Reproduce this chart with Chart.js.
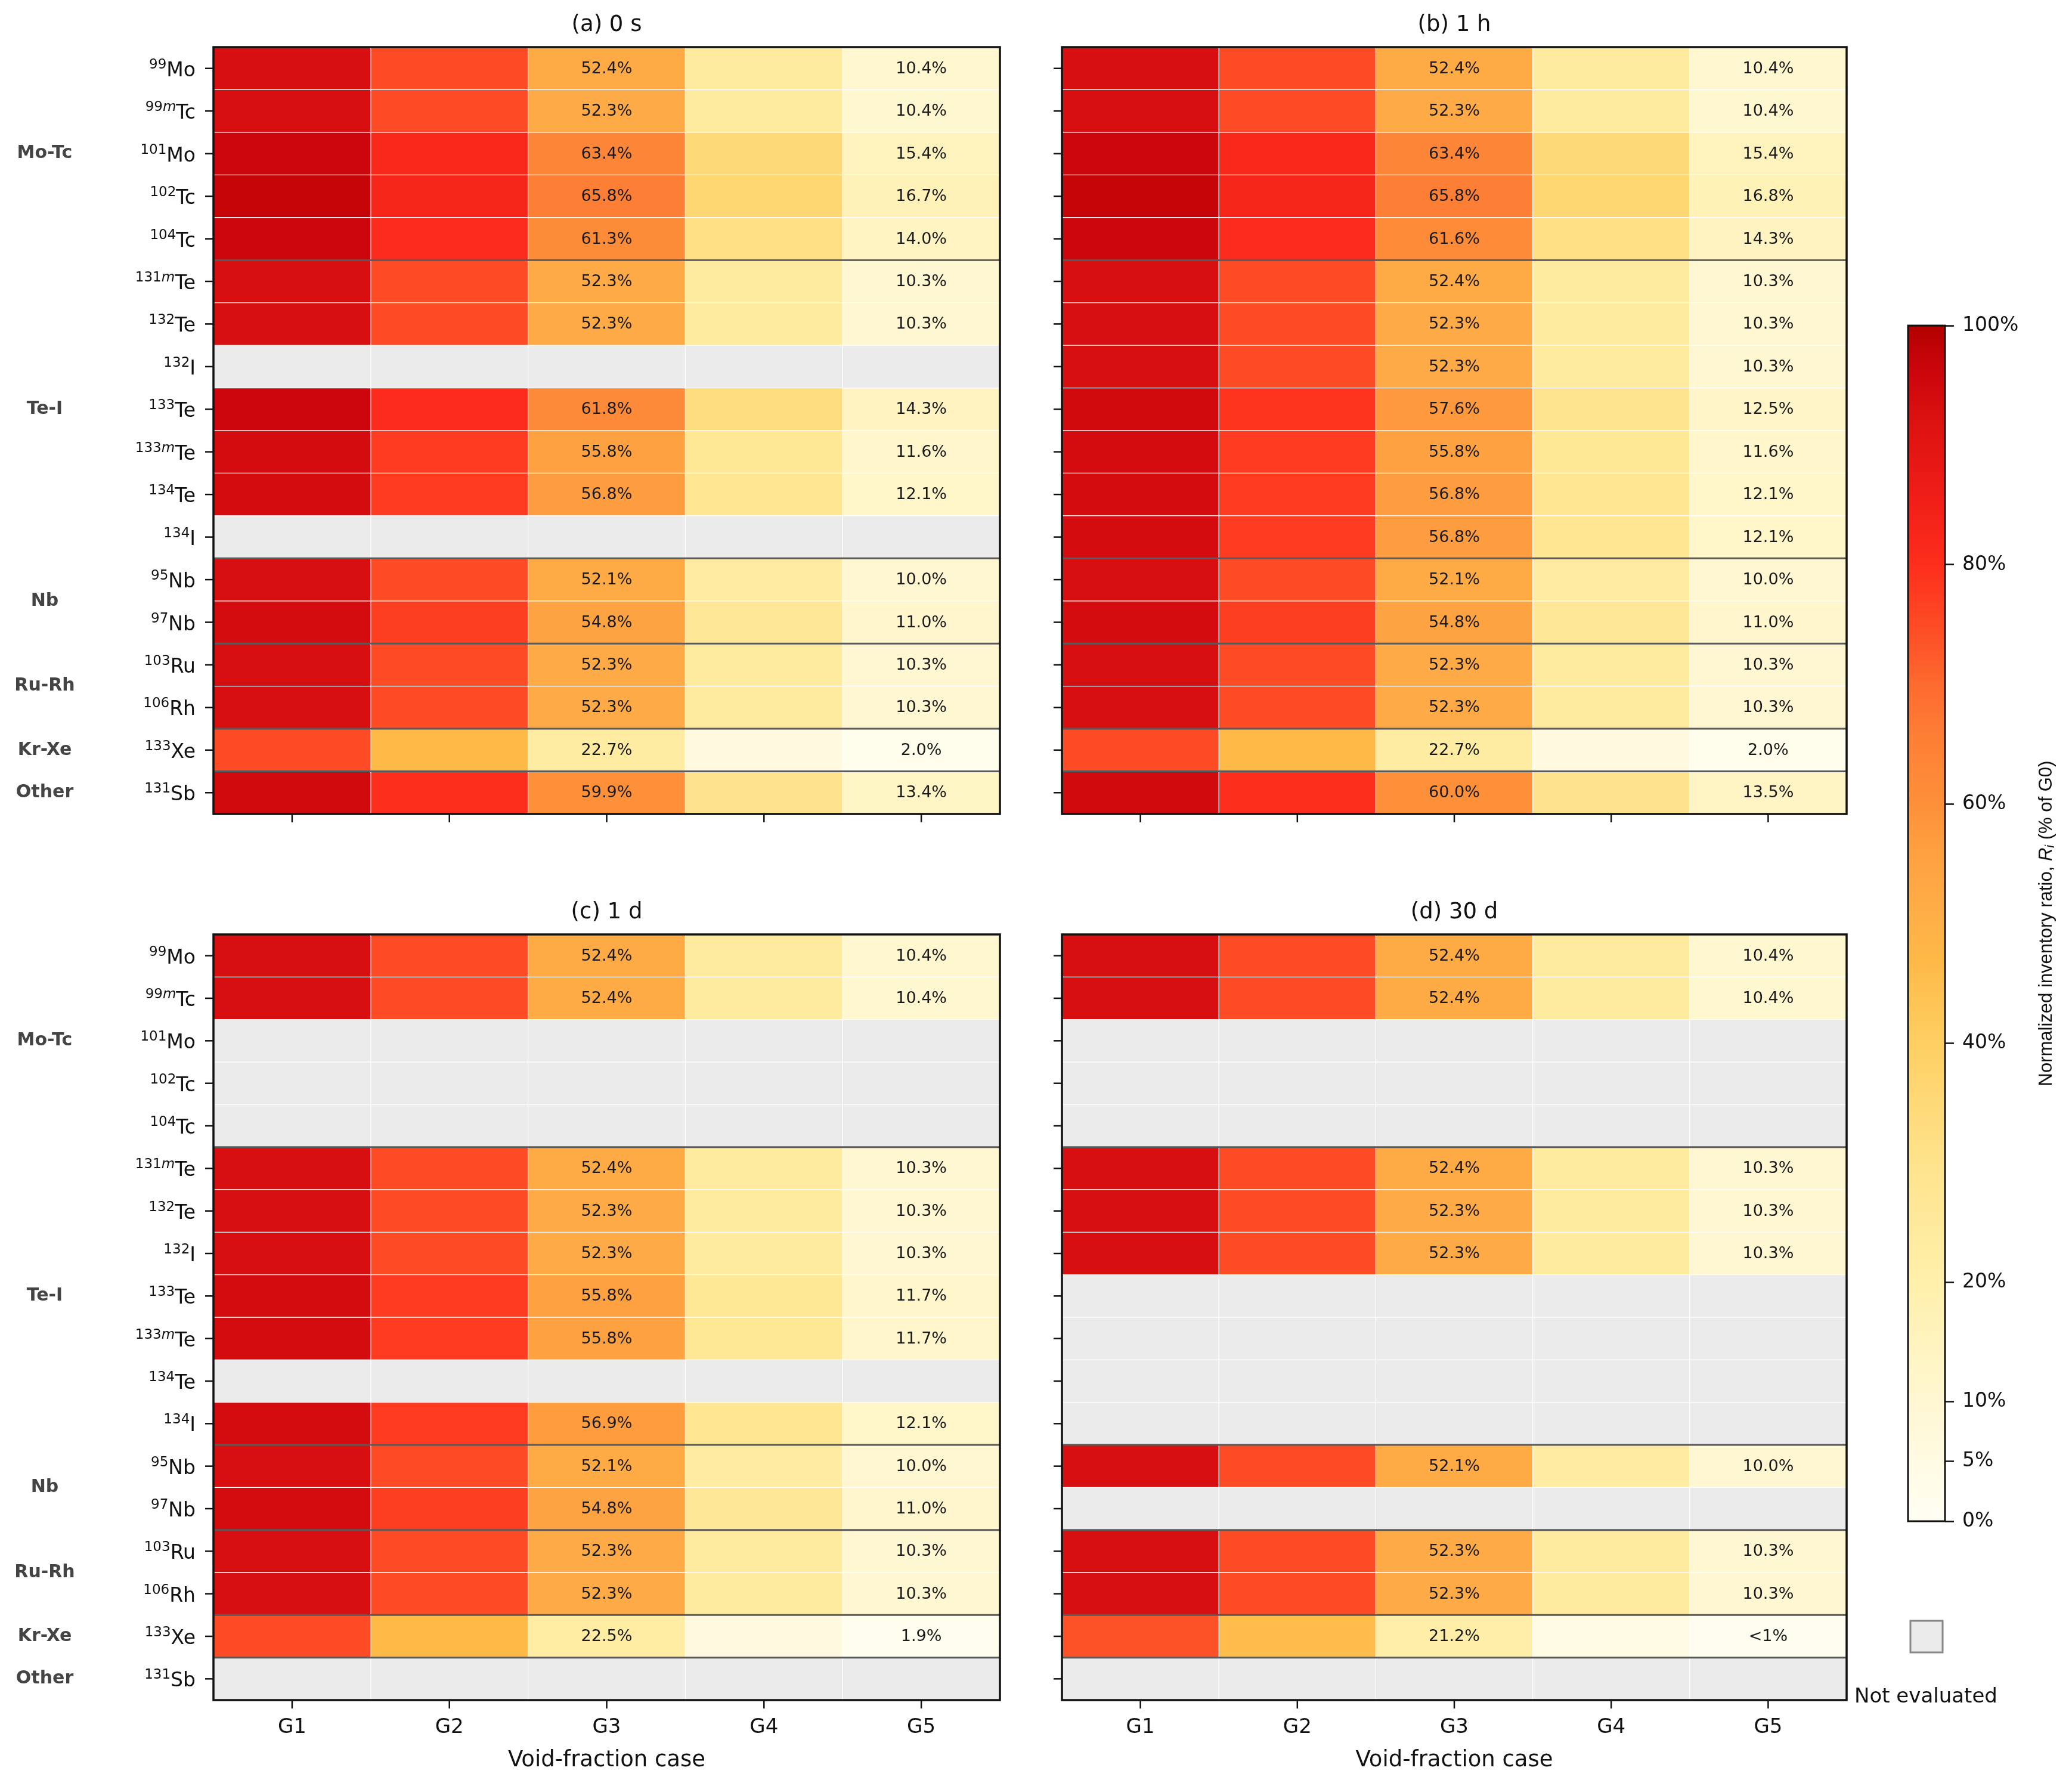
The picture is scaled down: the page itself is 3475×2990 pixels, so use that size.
<!DOCTYPE html>
<html lang="en">
<head>
<meta charset="UTF-8">
<title>Normalized inventory ratio by void-fraction case</title>
<script src="https://cdn.jsdelivr.net/npm/chart.js"></script>
<style>
    body {
        margin: 0;
        background: #ffffff;
    }

    #page {
        position: relative;
        width: 3475px;
        height: 2990px;
    }

    #page canvas {
        position: absolute;
        left: 0;
        top: 0;
    }
</style>
</head>
<body>
<div id="page">
    <canvas id="panelA" width="3475" height="2990"></canvas>
    <canvas id="panelB" width="3475" height="2990"></canvas>
    <canvas id="panelC" width="3475" height="2990"></canvas>
    <canvas id="panelD" width="3475" height="2990"></canvas>
    <canvas id="colorbar" width="3475" height="2990"></canvas>
</div>

<script>
    // ---- data ----
    const nuclides = ['99Mo', '99mTc', '101Mo', '102Tc', '104Tc', '131mTe', '132Te', '132I', '133Te',
        '133mTe', '134Te', '134I', '95Nb', '97Nb', '103Ru', '106Rh', '133Xe', '131Sb'];
    const groups = ['Mo-Tc', 'Te-I', 'Nb', 'Ru-Rh', 'Kr-Xe', 'Other'];
    const groupSizes = [5, 7, 2, 2, 1, 1];
    const cases = ['G1', 'G2', 'G3', 'G4', 'G5'];
    const labelledCases = ['G3', 'G5'];
    const cbarTicks = [0, 5, 10, 20, 40, 60, 80, 100];

    // (a) 0 s  -- values in % of G0, null = not evaluated
    const a_G1 = [93, 93, 96, 97, 96, 93, 93, null, 96, 94, 94, null, 93, 94, 93, 93, 75, 95];
    const a_G2 = [75, 75, 82, 83, 81, 75, 75, null, 81, 78, 78, null, 75, 77, 75, 75, 47, 80];
    const a_G3 = [52.4, 52.3, 63.4, 65.8, 61.3, 52.3, 52.3, null, 61.8, 55.8, 56.8, null, 52.1, 54.8, 52.3, 52.3, 22.7, 59.9];
    const a_G4 = [24, 24, 35, 36, 32, 24, 24, null, 33, 27, 28, null, 23, 26, 24, 24, 6, 30];
    const a_G5 = [10.4, 10.4, 15.4, 16.7, 14.0, 10.3, 10.3, null, 14.3, 11.6, 12.1, null, 10.0, 11.0, 10.3, 10.3, 2.0, 13.4];

    // (b) 1 h
    const b_G1 = [93, 93, 96, 97, 96, 93, 93, 93, 95, 94, 94, 94, 93, 94, 93, 93, 75, 95];
    const b_G2 = [75, 75, 82, 83, 81, 75, 75, 75, 79, 78, 78, 78, 75, 77, 75, 75, 47, 80];
    const b_G3 = [52.4, 52.3, 63.4, 65.8, 61.6, 52.4, 52.3, 52.3, 57.6, 55.8, 56.8, 56.8, 52.1, 54.8, 52.3, 52.3, 22.7, 60.0];
    const b_G4 = [24, 24, 35, 36, 32, 24, 24, 24, 29, 27, 28, 28, 23, 26, 24, 24, 6, 30];
    const b_G5 = [10.4, 10.4, 15.4, 16.8, 14.3, 10.3, 10.3, 10.3, 12.5, 11.6, 12.1, 12.1, 10.0, 11.0, 10.3, 10.3, 2.0, 13.5];

    // (c) 1 d
    const c_G1 = [93, 93, null, null, null, 93, 93, 93, 94, 94, null, 94, 93, 94, 93, 93, 75, null];
    const c_G2 = [75, 75, null, null, null, 75, 75, 75, 78, 78, null, 78, 75, 77, 75, 75, 47, null];
    const c_G3 = [52.4, 52.4, null, null, null, 52.4, 52.3, 52.3, 55.8, 55.8, null, 56.9, 52.1, 54.8, 52.3, 52.3, 22.5, null];
    const c_G4 = [24, 24, null, null, null, 24, 24, 24, 27, 27, null, 28, 23, 26, 24, 24, 6, null];
    const c_G5 = [10.4, 10.4, null, null, null, 10.3, 10.3, 10.3, 11.7, 11.7, null, 12.1, 10.0, 11.0, 10.3, 10.3, 1.9, null];

    // (d) 30 d
    const d_G1 = [93, 93, null, null, null, 93, 93, 93, null, null, null, null, 93, null, 93, 93, 74, null];
    const d_G2 = [75, 75, null, null, null, 75, 75, 75, null, null, null, null, 75, null, 75, 75, 46, null];
    const d_G3 = [52.4, 52.4, null, null, null, 52.4, 52.3, 52.3, null, null, null, null, 52.1, null, 52.3, 52.3, 21.2, null];
    const d_G4 = [24, 24, null, null, null, 24, 24, 24, null, null, null, null, 23, null, 24, 24, 5, null];
    const d_G5 = [10.4, 10.4, null, null, null, 10.3, 10.3, 10.3, null, null, null, null, 10.0, null, 10.3, 10.3, 0.8, null];

    // ---- styling ----
    const FONT = '"DejaVu Sans", sans-serif';
    const W = 3475, H = 2990;
    const notEvalColor = '#ebebeb';
    const cmapStops = [
        [0, '#fffef3'], [10, '#fff7d2'], [20, '#fff0ab'], [30, '#fee38c'], [40, '#fecf62'],
        [47, '#feb947'], [52, '#feab46'], [56, '#fea040'], [60, '#fd9039'], [66, '#fd7d35'],
        [70, '#fd6a2f'], [75, '#fd4b25'], [80, '#fe2e1c'], [86, '#ef1d17'], [92, '#dc1211'],
        [96, '#cc060c'], [100, '#b30000']
    ];

    function hexToRgb(h) {
        return [1, 3, 5].map(i => parseInt(h.substr(i, 2), 16));
    }

    function cmap(v) {
        v = Math.max(0, Math.min(100, v));
        for (let i = 1; i < cmapStops.length; i++) {
            const [v1, c1] = cmapStops[i];
            if (v <= v1) {
                const [v0, c0] = cmapStops[i - 1];
                const t = (v - v0) / (v1 - v0);
                const a = hexToRgb(c0), b = hexToRgb(c1);
                const m = a.map((x, j) => Math.round(x + (b[j] - x) * t));
                return `rgb(${m[0]}, ${m[1]}, ${m[2]})`;
            }
        }
        return cmapStops[cmapStops.length - 1][1];
    }

    function fmt(v) {
        return v < 1 ? '<1%' : v.toFixed(1) + '%';
    }

    function line(ctx, x0, y0, x1, y1) {
        ctx.beginPath();
        ctx.moveTo(x0, y0);
        ctx.lineTo(x1, y1);
        ctx.stroke();
    }

    // nuclide tick label with superscript mass number (metastable "m" in italics)
    function drawNuclide(ctx, label, xr, yc) {
        const m = label.match(/^(\d+)(m?)(.+)$/);
        ctx.textAlign = 'left';
        ctx.textBaseline = 'alphabetic';
        ctx.font = `33px ${FONT}`;
        const ws = ctx.measureText(m[3]).width;
        ctx.font = `23px ${FONT}`;
        const wn = ctx.measureText(m[1]).width;
        ctx.font = `italic 23px ${FONT}`;
        const wm = m[2] ? ctx.measureText(m[2]).width : 0;
        let xx = xr - ws - wm - wn;
        ctx.font = `23px ${FONT}`;
        ctx.fillText(m[1], xx, yc);
        xx += wn;
        if (m[2]) {
            ctx.font = `italic 23px ${FONT}`;
            ctx.fillText(m[2], xx, yc);
            xx += wm;
        }
        ctx.font = `33px ${FONT}`;
        ctx.fillText(m[3], xx, yc + 13);
    }

    // frame, group separators, ticks, labels and cell annotations
    const panelDecor = {
        id: 'panelDecor',
        afterDatasetsDraw(chart, args, o) {
            const {ctx, chartArea: a, scales: {x, y}} = chart;
            const rowY = i => y.getPixelForValue(i);
            const half = (rowY(1) - rowY(0)) / 2;
            ctx.save();

            // cell annotations
            ctx.font = `27px ${FONT}`;
            ctx.fillStyle = '#1a1a1a';
            ctx.textAlign = 'center';
            ctx.textBaseline = 'middle';
            chart.data.datasets.forEach((ds, k) => {
                if (!labelledCases.includes(ds.label)) return;
                ds.values.forEach((v, i) => {
                    if (v === null) return;
                    ctx.fillText(fmt(v), x.getPixelForValue(k + 0.5), rowY(i) + 1);
                });
            });

            // group separators
            ctx.strokeStyle = '#5a5a5a';
            ctx.lineWidth = 3;
            let r = 0;
            groupSizes.slice(0, -1).forEach(n => {
                r += n;
                const yy = rowY(r) - half;
                line(ctx, a.left, yy, a.right, yy);
            });

            // frame
            ctx.strokeStyle = '#111';
            ctx.lineWidth = 3.5;
            ctx.strokeRect(a.left, a.top, a.right - a.left, a.bottom - a.top);

            // ticks
            ctx.lineWidth = 2.5;
            cases.forEach((c, k) => {
                const xx = x.getPixelForValue(k + 0.5);
                line(ctx, xx, a.bottom, xx, a.bottom + 14);
            });
            nuclides.forEach((n, i) => line(ctx, a.left - 14, rowY(i), a.left, rowY(i)));

            // title
            ctx.fillStyle = '#111';
            ctx.font = `37px ${FONT}`;
            ctx.textAlign = 'center';
            ctx.textBaseline = 'middle';
            ctx.fillText(o.title, (a.left + a.right) / 2, a.top - 37);

            if (o.showX) {
                ctx.font = `34px ${FONT}`;
                cases.forEach((c, k) => ctx.fillText(c, x.getPixelForValue(k + 0.5), a.bottom + 46));
                ctx.font = `37px ${FONT}`;
                ctx.fillText('Void-fraction case', (a.left + a.right) / 2, a.bottom + 101);
            }

            if (o.showY) {
                ctx.fillStyle = '#111';
                nuclides.forEach((n, i) => drawNuclide(ctx, n, a.left - 30, rowY(i)));
                ctx.font = `bold 30px ${FONT}`;
                ctx.fillStyle = '#444';
                ctx.textAlign = 'center';
                ctx.textBaseline = 'middle';
                let start = 0;
                groups.forEach((g, gi) => {
                    const mid = start + (groupSizes[gi] - 1) / 2;
                    ctx.fillText(g, 75, (rowY(Math.floor(mid)) + rowY(Math.ceil(mid))) / 2);
                    start += groupSizes[gi];
                });
            }
            ctx.restore();
        }
    };

    function makePanel(id, title, cols, box, showY, showX) {
        const datasets = cols.map((vals, k) => ({
            label: cases[k],
            data: vals.map(() => [k, k + 1]),
            values: vals,
            backgroundColor: vals.map(v => v === null ? notEvalColor : cmap(v)),
            borderColor: '#ffffff',
            borderWidth: 1,
            borderSkipped: false,
            grouped: false,
            barPercentage: 1,
            categoryPercentage: 1
        }));
        new Chart(document.getElementById(id), {
            type: 'bar',
            data: {labels: nuclides, datasets},
            options: {
                indexAxis: 'y',
                responsive: false,
                animation: false,
                devicePixelRatio: 1,
                layout: {padding: {left: box[0], top: box[1], right: W - box[2], bottom: H - box[3]}},
                plugins: {
                    legend: {display: false},
                    tooltip: {enabled: false},
                    panelDecor: {title, showY, showX}
                },
                scales: {
                    x: {type: 'linear', min: 0, max: 5, display: false},
                    y: {type: 'category', display: false}
                }
            },
            plugins: [panelDecor]
        });
    }

    makePanel('panelA', '(a) 0 s', [a_G1, a_G2, a_G3, a_G4, a_G5], [358, 79, 1677, 1365], true, false);
    makePanel('panelB', '(b) 1 h', [b_G1, b_G2, b_G3, b_G4, b_G5], [1781, 79, 3097, 1365], false, false);
    makePanel('panelC', '(c) 1 d', [c_G1, c_G2, c_G3, c_G4, c_G5], [358, 1567, 1677, 2851], true, true);
    makePanel('panelD', '(d) 30 d', [d_G1, d_G2, d_G3, d_G4, d_G5], [1781, 1567, 3097, 2851], false, true);

    // ---- colorbar + "Not evaluated" key ----
    const colorbarDecor = {
        id: 'colorbarDecor',
        afterDatasetsDraw(chart) {
            const {ctx, chartArea: a} = chart;
            ctx.save();
            ctx.strokeStyle = '#111';
            ctx.lineWidth = 3;
            ctx.strokeRect(a.left, a.top, a.right - a.left, a.bottom - a.top);

            // rotated label: Normalized inventory ratio, R_i (% of G0)
            const LF = '"Liberation Sans", Arial, sans-serif';
            ctx.translate(3432, (a.top + a.bottom) / 2);
            ctx.rotate(-Math.PI / 2);
            ctx.fillStyle = '#111';
            ctx.textBaseline = 'middle';
            ctx.textAlign = 'left';
            const parts = [
                ['Normalized inventory ratio, ', `31px ${LF}`, 0],
                ['R', `italic 31px ${LF}`, 0],
                ['i', `italic 22px ${LF}`, 7],
                [' (% of G0)', `31px ${LF}`, 0]
            ];
            let total = 0;
            parts.forEach(p => { ctx.font = p[1]; total += ctx.measureText(p[0]).width; });
            let xx = -total / 2;
            parts.forEach(p => {
                ctx.font = p[1];
                ctx.fillText(p[0], xx, p[2]);
                xx += ctx.measureText(p[0]).width;
            });
            ctx.restore();

            ctx.save();
            ctx.fillStyle = notEvalColor;
            ctx.fillRect(3204, 2718, 54, 53);
            ctx.strokeStyle = '#888';
            ctx.lineWidth = 3;
            ctx.strokeRect(3204, 2718, 54, 53);
            ctx.fillStyle = '#111';
            ctx.font = `34px ${FONT}`;
            ctx.textAlign = 'left';
            ctx.textBaseline = 'alphabetic';
            ctx.fillText('Not evaluated', 3110, 2855);
            ctx.restore();
        }
    };

    new Chart(document.getElementById('colorbar'), {
        type: 'bar',
        data: {
            labels: [''],
            datasets: [{
                data: [[0, 100]],
                backgroundColor: (c) => {
                    const ys = c.chart.scales.y;
                    if (!c.chart.chartArea || !ys) return '#ffffff';
                    const g = c.chart.ctx.createLinearGradient(0, ys.getPixelForValue(0), 0, ys.getPixelForValue(100));
                    cmapStops.forEach(([v, col]) => g.addColorStop(v / 100, col));
                    return g;
                },
                borderWidth: 0,
                barPercentage: 1,
                categoryPercentage: 1
            }]
        },
        options: {
            responsive: false,
            animation: false,
            devicePixelRatio: 1,
            layout: {padding: {left: 3200, top: 546, right: 63, bottom: H - 2551}},
            plugins: {legend: {display: false}, tooltip: {enabled: false}},
            scales: {
                x: {display: false},
                y: {
                    position: 'right',
                    min: 0,
                    max: 100,
                    afterBuildTicks: s => { s.ticks = cbarTicks.map(v => ({value: v})); },
                    afterFit: s => { s.width = 150; },
                    ticks: {
                        callback: v => v + '%',
                        font: {family: '"DejaVu Sans"', size: 33},
                        color: '#111',
                        padding: 14
                    },
                    grid: {drawOnChartArea: false, drawTicks: true, tickLength: 15, tickWidth: 2.5, tickColor: '#111'},
                    border: {display: false}
                }
            }
        },
        plugins: [colorbarDecor]
    });
</script>
</body>
</html>
